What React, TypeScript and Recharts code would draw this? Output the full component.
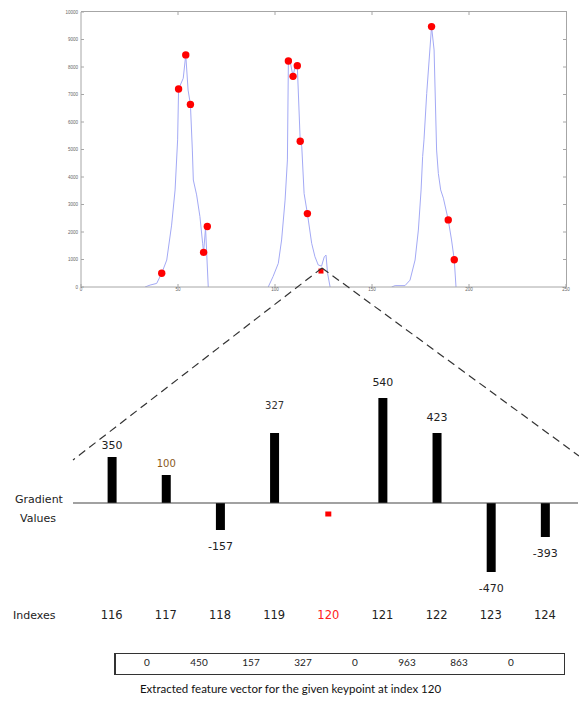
import React from "react";
import {
  ComposedChart,
  Line,
  XAxis,
  YAxis,
  BarChart,
  Bar,
  LabelList,
  ReferenceLine,
  ReferenceDot,
} from "recharts";

// top panel: intensity profile, three peaks
const peak1X = [33, 35.6, 39, 41.6, 44.2, 46.7, 48.5, 49.8, 50.3, 52.7, 54, 55.2, 56.4, 57.4, 57.9, 59.6, 61.3, 62.7, 63.2, 64.2, 65.6];
const peak1Y = [0, 70, 130, 500, 980, 2250, 3530, 5350, 7200, 7590, 8440, 7160, 6640, 4980, 3890, 3350, 2560, 1590, 1260, 2150, 0];
const peak2X = [96.5, 99, 101.7, 103.4, 105.2, 106.4, 106.9, 108, 109.3, 110.5, 111.5, 113, 113.8, 115, 116.7, 118.9, 120.6, 122.3, 124, 125.4, 126.3, 127.1, 128.4];
const peak2Y = [0, 380, 860, 1710, 3160, 4620, 8220, 8130, 7660, 8070, 8050, 5300, 5100, 3400, 2670, 1590, 1100, 800, 760, 1100, 1160, 500, 0];
const peak3X = [160.1, 161.9, 167, 169.6, 172.2, 173.9, 175.3, 176.1, 176.8, 178.2, 180.7, 182, 183.3, 184.2, 185.4, 186.8, 189.3, 191, 192.4, 193.3];
const peak3Y = [0, 50, 50, 250, 980, 2070, 3530, 4740, 5350, 7040, 9470, 8620, 4980, 4130, 3530, 3230, 2440, 1710, 990, 0];

const keypointX = [41.6, 50.3, 54, 56.4, 63.2, 65.1, 106.9, 109.3, 111.5, 113, 116.7, 180.7, 189.3, 192.4];
const keypointY = [500, 7200, 8440, 6640, 1260, 2200, 8220, 7660, 8050, 5300, 2670, 9470, 2440, 990];
const selectedX = [123.7];
const selectedY = [580];

const xTicks = [0, 50, 100, 150, 200, 250];
const yTicks = [0, 1000, 2000, 3000, 4000, 5000, 6000, 7000, 8000, 9000, 10000];

// bottom panel: gradients around index 120 (bar lengths as drawn, labels as written)
const indexes = ["116", "117", "118", "119", "120", "121", "122", "123", "124"];
const barLength = [46, 28, -27, 70, 0, 105, 70, -69, -34];
const gradientLabels = ["350", "100", "-157", "327", "", "540", "423", "-470", "-393"];
const keypointIndex = "120";

const featureVector = [0, 450, 157, 327, 0, 963, 863, 0];

const toPoints = (xs: number[], ys: number[]) => xs.map((x, i) => ({ x, y: ys[i] }));

const curve = [
  ...toPoints(peak1X, peak1Y),
  { x: 80, y: null },
  ...toPoints(peak2X, peak2Y),
  { x: 145, y: null },
  ...toPoints(peak3X, peak3Y),
];
const keypoints = toPoints(keypointX, keypointY);
const selected = toPoints(selectedX, selectedY);
const bars = indexes.map((idx, i) => ({ idx, len: barLength[i] }));

const DEJAVU = "'DejaVu Sans', sans-serif";
const AXIS_GRAY = "#a6a6a6";

// top plot box (matlab style frame)
const PLOT = { left: 81, right: 566, top: 12, bottom: 287 };
const X_MAX = 250;
const Y_MAX = 10000;
const px = (v: number) => PLOT.left + (v / X_MAX) * (PLOT.right - PLOT.left);
const py = (v: number) => PLOT.bottom - (v / Y_MAX) * (PLOT.bottom - PLOT.top);

function SquareDot(props: any) {
  const { cx, cy } = props;
  if (cx == null || cy == null) return null;
  return <rect x={cx - 2.5} y={cy - 2.5} width={5} height={5} fill="#ff0000" />;
}

const LABEL_GAP: Record<string, number> = { "116": 12, "117": 12, "119": 28 };
const LABEL_STYLE: Record<string, { size: number; fill: string }> = {
  "117": { size: 10, fill: "#8a5a1c" },
  "119": { size: 10, fill: "#333" },
};

function BarLabel(props: any) {
  const { x, y, width, height, value } = props;
  const i = indexes.indexOf(String(value));
  if (i < 0 || barLength[i] === 0) return null;
  const v = barLength[i];
  const cx = x + width / 2;
  const gap = LABEL_GAP[value] ?? 16;
  const top = Math.min(y, y + height);
  const bottom = Math.max(y, y + height);
  const cy = v > 0 ? top - gap : bottom + gap;
  const st = LABEL_STYLE[value] ?? { size: 11, fill: "#222" };
  return (
    <text x={cx} y={cy} textAnchor="middle" dominantBaseline="central" fontSize={st.size} fontFamily={DEJAVU} fill={st.fill}>
      {gradientLabels[i]}
    </text>
  );
}

function IndexTick(props: any) {
  const { x, y, payload } = props;
  return (
    <text x={x} y={y} dy={7.5} textAnchor="middle" fontSize={11.5} fontFamily={DEJAVU} fill={payload.value === keypointIndex ? "#ff2020" : "#222"}>
      {payload.value}
    </text>
  );
}

function KeypointMark(props: any) {
  const { cx, cy } = props;
  if (cx == null || cy == null) return null;
  return <rect x={cx - 3} y={cy - 2.5} width={6} height={5} fill="#ff0000" />;
}

export default function App() {
  const small = { fontSize: 4.5, fill: "#666", fontFamily: "Arial, sans-serif" };
  return (
    <div style={{ position: "absolute", left: 0, top: 0, width: 579, height: 704, background: "#fff" }}>
      {/* top and right edges of the plot box */}
      <div
        style={{
          position: "absolute",
          left: PLOT.left,
          top: PLOT.top - 1,
          width: PLOT.right - PLOT.left + 1,
          height: PLOT.bottom - PLOT.top + 1,
          boxSizing: "border-box",
          borderTop: `1px solid ${AXIS_GRAY}`,
          borderRight: `1px solid ${AXIS_GRAY}`,
        }}
      />
      <div style={{ position: "absolute", left: 0, top: 0 }}>
        <ComposedChart width={579} height={300} data={curve} margin={{ top: 12, right: 13, left: 51, bottom: 3 }}>
          <XAxis
            dataKey="x"
            type="number"
            domain={[0, X_MAX]}
            ticks={xTicks}
            interval={0}
            height={10}
            tickSize={-3}
            tickMargin={4}
            stroke={AXIS_GRAY}
            tick={small}
            allowDataOverflow
          />
          <YAxis
            type="number"
            domain={[0, Y_MAX]}
            ticks={yTicks}
            interval={0}
            width={30}
            tickSize={-3}
            tickMargin={6}
            stroke={AXIS_GRAY}
            tick={small}
            allowDataOverflow
          />
          <Line dataKey="y" stroke="#a3a9f5" strokeWidth={1} dot={false} connectNulls={false} isAnimationActive={false} />
          <Line data={keypoints} dataKey="y" stroke="none" dot={{ r: 3.7, fill: "#ff0000", stroke: "none" }} isAnimationActive={false} />
          <Line data={selected} dataKey="y" stroke="none" dot={<SquareDot />} isAnimationActive={false} />
        </ComposedChart>
      </div>

      <div style={{ position: "absolute", left: 0, top: 370 }}>
        <BarChart width={579} height={260} data={bars} margin={{ top: 8, right: 1, left: 73, bottom: 10 }}>
          <XAxis
            dataKey="idx"
            height={17}
            axisLine={false}
            tickLine={false}
            interval={0}
            padding={{ left: 11.6, right: 6 }}
            tick={<IndexTick />}
          />
          <YAxis hide width={0} type="number" domain={[-100, 125]} allowDataOverflow />
          <ReferenceLine y={0} stroke="#444" strokeWidth={1.2} />
          <ReferenceDot x={keypointIndex} y={-11} r={3} shape={<KeypointMark />} />
          <Bar dataKey="len" fill="#000" barSize={9} isAnimationActive={false}>
            <LabelList dataKey="idx" content={<BarLabel />} />
          </Bar>
        </BarChart>
      </div>

      <div
        style={{
          position: "absolute",
          left: 114,
          top: 653,
          width: 451,
          height: 22,
          boxSizing: "border-box",
          border: "1px solid #333",
          borderLeftWidth: 2,
          display: "grid",
          gridTemplateColumns: "repeat(8, 52px)",
          paddingLeft: 5,
          alignItems: "center",
          fontFamily: "Lato, sans-serif",
          fontSize: 10,
          color: "#222",
        }}
      >
        {featureVector.map((v, i) => (
          <div key={i} style={{ textAlign: "center", marginTop: -4 }}>
            {v}
          </div>
        ))}
      </div>
      <div
        style={{
          position: "absolute",
          left: 0,
          width: 579,
          top: 682,
          textAlign: "center",
          fontFamily: "Lato, sans-serif",
          fontSize: 11.5,
          color: "#111",
        }}
      >
        <span style={{ position: "relative", left: 1 }}>Extracted feature vector for the given keypoint at index 120</span>
      </div>

      <svg width={579} height={704} style={{ position: "absolute", left: 0, top: 0, pointerEvents: "none" }}>
        {/* inward ticks on the top and right edges */}
        <g stroke={AXIS_GRAY} strokeWidth={1} fill="none">
          {xTicks.slice(1, -1).map((t) => (
            <line key={"tx" + t} x1={px(t)} y1={PLOT.top} x2={px(t)} y2={PLOT.top + 3} />
          ))}
          {yTicks.slice(1, -1).map((t) => (
            <line key={"ty" + t} x1={PLOT.right - 3} y1={py(t)} x2={PLOT.right} y2={py(t)} />
          ))}
        </g>
        <g stroke="#333" strokeWidth={1.2} strokeDasharray="8 5" fill="none">
          <line x1={322} y1={268} x2={73} y2={460} />
          <line x1={322} y1={268} x2={579} y2={456} />
        </g>
        <g fontFamily={DEJAVU} fontSize={11} fill="#222">
          <text x={39} y={503} textAnchor="middle">Gradient</text>
          <text x={38} y={521.5} textAnchor="middle">Values</text>
          <text x={13} y={618.5}>Indexes</text>
        </g>
      </svg>
    </div>
  );
}
